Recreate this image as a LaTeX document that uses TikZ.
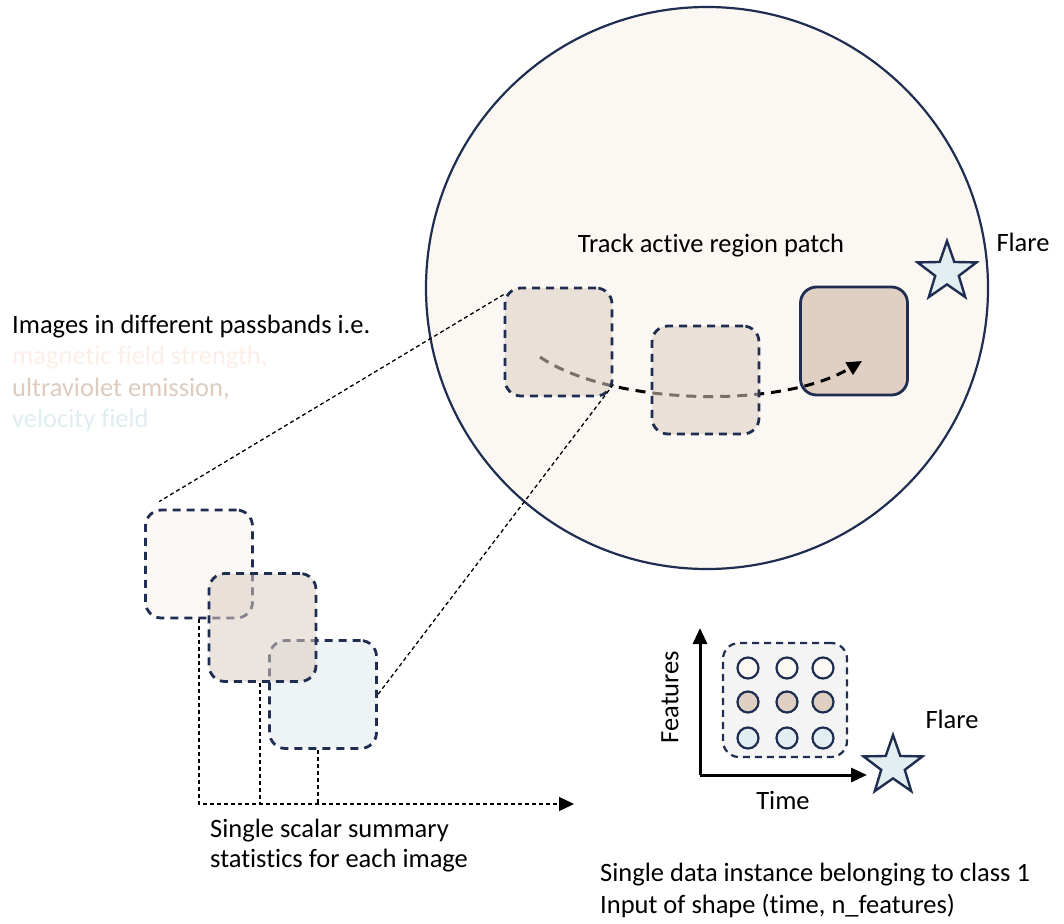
\documentclass[tikz,border=0pt]{standalone}
\usepackage{fontspec}
\setmainfont{Carlito}[Ligatures=NoCommon]
\usetikzlibrary{shapes.geometric,arrows.meta,calc}
\definecolor{navy}{HTML}{1F2D50}
\definecolor{sunbg}{HTML}{FBF8F4}
\definecolor{patchA}{HTML}{FBF8F5}
\definecolor{patchmix}{HTML}{DCCDC2}
\definecolor{patchsolid}{HTML}{DFD0C3}
\definecolor{patchC}{HTML}{EEF3F6}
\definecolor{starfill}{HTML}{E3EEF1}
\definecolor{magc}{HTML}{FCEEE6}
\definecolor{uvc}{HTML}{DCCBBF}
\definecolor{velc}{HTML}{E0EDF0}
\definecolor{boxfill}{HTML}{F4F4F4}
\definecolor{dotTop}{HTML}{FBF8F4}
\definecolor{dotMid}{HTML}{DFD0C3}
\definecolor{dotBot}{HTML}{E2EEF2}
\tikzset{
  patch/.style={rectangle, rounded corners=16pt, minimum width=107pt, minimum height=108pt, inner sep=0pt, draw=navy, line width=2.8pt},
  dpatch/.style={patch, dash pattern=on 8pt off 6pt},
  thinline/.style={black, line width=1.3pt, dash pattern=on 4pt off 3pt},
  traj/.style={line width=3pt, dash pattern=on 10pt off 7pt},
  starnode/.style={star, star points=5, star point ratio=2.5, minimum size=62pt, inner sep=0pt, draw=navy, line width=2.4pt, fill=starfill},
  dot/.style={circle, minimum size=21pt, inner sep=0pt, draw=navy, line width=2.2pt},
  lbl/.style={inner sep=0pt, text=black},
}
\begin{document}
\begin{tikzpicture}[x=1pt,y=-1pt,font=\fontsize{26.5}{31}\selectfont]
\useasboundingbox (0,0) rectangle (1064,923);

% big circle
\node[circle, draw=navy, line width=2.2pt, fill=sunbg, minimum size=562pt, inner sep=0pt] (sun) at (707,288) {};
\node[lbl] (track) at (711,246) {Track active region patch};
\node[lbl] (flare1) at (1023,242) {Flare};
\node[starnode] (star1) at (947,272) {};

% patches in circle
\node[patch, fill=patchsolid] (p3) at (854,341) {};
\coordinate (ts) at (540,357);
\coordinate (te) at (862,361);
\draw[traj, -{Triangle[length=15pt,width=14pt]}] (ts) .. controls (610,405) and (780,410) .. (te);
\node[dpatch, fill=patchmix, fill opacity=0.55] (p1) at (558.5,342) {};
\node[dpatch, fill=patchmix, fill opacity=0.55] (p2) at (705.5,380) {};

% left text
\node[lbl, anchor=west] (t1) at (12,327) {Images in different passbands i.e.};
\node[lbl, anchor=west, text=magc] (t2) at (12,358) {magnetic field strength,};
\node[lbl, anchor=west, text=uvc] (t3) at (12,389) {ultraviolet emission,};
\node[lbl, anchor=west, text=velc] (t4) at (12,420) {velocity field};

% lower left patches
\node[dpatch, fill=patchA] (A) at (199,564) {};
\node[dpatch, fill=patchC] (C) at (323,694.5) {};
\node[dpatch, fill=patchmix, fill opacity=0.55] (B) at (262.5,627.5) {};

% connectors from circle patch to stack
\draw[thinline] ([yshift=-8pt]p1.north west) -- ([xshift=15pt,yshift=7pt]A.north west);
\draw[thinline] ([yshift=13pt]p1.south east) -- (C.east);

% drops to time line
\coordinate (tend) at (574,804);
\draw[thinline, -{Triangle[length=15pt,width=14pt]}] (A.south) |- (tend);
\draw[thinline] ([xshift=-2.5pt]B.south) -- ([xshift=-2.5pt]B.south |- tend);
\draw[thinline] ([xshift=-5pt]C.south) -- ([xshift=-5pt]C.south |- tend);

\node[lbl, anchor=west] (s1) at (210,831) {Single scalar summary};
\node[lbl, anchor=west] (s2) at (210,861) {statistics for each image};

% plot
\coordinate (o) at (700,775);
\coordinate (ytip) at (700,628);
\coordinate (xtip) at (867,775);
\node[rectangle, rounded corners=16pt, minimum width=124pt, minimum height=114pt, inner sep=0pt, draw=navy, line width=2.2pt, dash pattern=on 7pt off 5pt, fill=boxfill] (grid) at (785,700) {};
\draw[line width=3pt, -{Triangle[length=16pt,width=14pt]}] (o) -- (ytip);
\draw[line width=3pt, -{Triangle[length=16pt,width=14pt]}] (o) -- (xtip);
\foreach \x [count=\i] in {748,787,823}{
  \node[dot, fill=dotTop] (d1\i) at (\x,668) {};
  \node[dot, fill=dotMid] (d2\i) at (\x,702) {};
  \node[dot, fill=dotBot] (d3\i) at (\x,738) {};
}
\node[lbl, rotate=90] (feat) at (670,697) {Features};
\node[lbl] (time) at (783,800) {Time};
\node[lbl] (flare2) at (952,719) {Flare};
\node[starnode] (star2) at (893,766) {};

\node[lbl, anchor=west] (b1) at (600,875) {Single data instance belonging to class 1};
\node[lbl, anchor=west] (b2) at (600,906) {Input of shape (time, n\_features)};
\end{tikzpicture}
\end{document}
